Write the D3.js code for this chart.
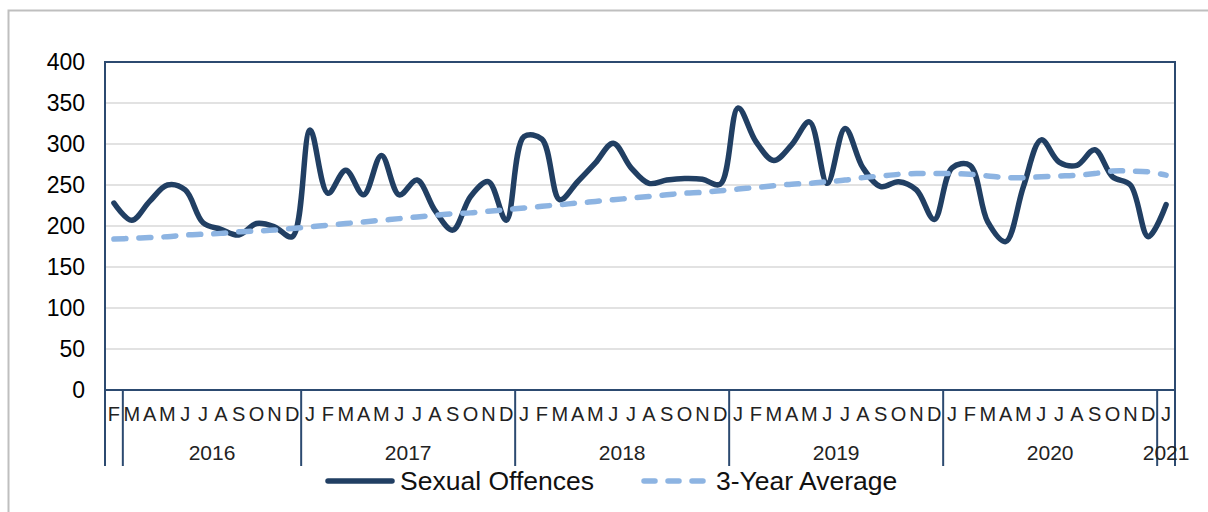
<!DOCTYPE html>
<html>
<head>
<meta charset="utf-8">
<script src="https://cdn.jsdelivr.net/npm/d3@7"></script>
<style>
  body { margin: 0; background: #fff; }
  svg { display: block; font-family: "Liberation Sans", Arial, sans-serif; }
</style>
</head>
<body>
<svg id="chart" width="1208" height="512"></svg>
<script>
// months from Feb 2016 to Jan 2021
var months = ["F",
  "M","A","M","J","J","A","S","O","N","D",
  "J","F","M","A","M","J","J","A","S","O","N","D",
  "J","F","M","A","M","J","J","A","S","O","N","D",
  "J","F","M","A","M","J","J","A","S","O","N","D",
  "J","F","M","A","M","J","J","A","S","O","N","D",
  "J"];

// year groups: label and number of months in it
var yearLabels = ["", "2016", "2017", "2018", "2019", "2020", "2021"];
var yearCounts = [1, 10, 12, 12, 12, 12, 1];

var offences = [228, 207, 230, 250, 244, 204, 196, 189, 203, 199, 187,
  317, 240, 268, 238, 286, 238, 256, 219, 195, 236, 254, 207,
  309, 306, 232, 254, 277, 301, 271, 252, 256, 258, 257, 251,
  344, 303, 280, 299, 327, 252, 319, 271, 248, 254, 244, 208,
  271, 274, 205, 181, 248, 305, 278, 274, 293, 260, 250, 187,
  226];

var average = [184, 185, 186, 187, 189, 190, 191, 193, 194, 195, 197,
  199, 201, 203, 205, 207, 209, 211, 213, 215, 216, 218, 220,
  222, 224, 226, 228, 230, 232, 234, 236, 238, 240, 241, 243,
  245, 247, 249, 251, 252, 254, 256, 259, 261, 263, 264, 264,
  264, 263, 261, 259, 259, 260, 261, 262, 264, 267, 267, 266,
  262];

var yTicks = [0, 50, 100, 150, 200, 250, 300, 350, 400];

var darkBlue = "#213F63";
var lightBlue = "#8DB4E2";
var axisBlue = "#2C4A70";

var svg = d3.select("#chart");

// outer frame
svg.append("rect").attr("x", 8.5).attr("y", 10.5)
  .attr("width", 1220).attr("height", 520)
  .attr("fill", "none").attr("stroke", "#BFBFBF").attr("stroke-width", 2);

var plotLeft = 105, plotRight = 1175, plotTop = 62, plotBottom = 390;

var x = d3.scaleBand().domain(d3.range(months.length)).range([plotLeft, plotRight]).padding(0);
var y = d3.scaleLinear().domain([0, 400]).range([plotBottom, plotTop]);

// gridlines
svg.append("g").selectAll("line").data(yTicks.filter(function(d) { return d > 0 && d < 400; }))
  .join("line")
  .attr("x1", plotLeft).attr("x2", plotRight)
  .attr("y1", function(d) { return y(d); }).attr("y2", function(d) { return y(d); })
  .attr("stroke", "#D9D9D9").attr("stroke-width", 1.5);

// y axis labels
var yAxis = svg.append("g").attr("transform", "translate(" + (plotLeft - 20) + ",0)")
  .call(d3.axisLeft(y).tickValues(yTicks).tickSize(0).tickPadding(0));
yAxis.select(".domain").remove();
yAxis.selectAll("text").attr("font-size", 23).attr("fill", "#000")
  .attr("font-family", "'Liberation Sans', Arial, sans-serif");

// plot border
svg.append("rect").attr("x", plotLeft).attr("y", plotTop)
  .attr("width", plotRight - plotLeft).attr("height", plotBottom - plotTop)
  .attr("fill", "none").attr("stroke", axisBlue).attr("stroke-width", 2);

// month labels
svg.append("g").selectAll("text").data(months).join("text")
  .attr("x", function(d, i) { return x(i) + x.bandwidth() / 2; })
  .attr("y", 421)
  .attr("text-anchor", "middle")
  .attr("font-size", 20).attr("fill", "#222")
  .text(function(d) { return d; });

// year groups and separators
var starts = [0];
yearCounts.forEach(function(c, i) { starts.push(starts[i] + c); });
var sepX = starts.map(function(s) { return s < months.length ? x(s) : plotRight; });
svg.append("g").selectAll("line").data(sepX).join("line")
  .attr("x1", function(d) { return d; }).attr("x2", function(d) { return d; })
  .attr("y1", plotBottom).attr("y2", 466)
  .attr("stroke", axisBlue).attr("stroke-width", 2);

svg.append("g").selectAll("text").data(yearLabels).join("text")
  .attr("x", function(d, i) { return (sepX[i] + sepX[i + 1]) / 2; })
  .attr("y", 460)
  .attr("text-anchor", "middle")
  .attr("font-size", 21).attr("fill", "#222")
  .text(function(d) { return d; });

// lines
var line = d3.line()
  .x(function(d, i) { return x(i) + x.bandwidth() / 2; })
  .y(function(d) { return y(d); })
  .curve(d3.curveCatmullRom.alpha(0.5));

svg.append("path").datum(offences)
  .attr("d", line).attr("fill", "none")
  .attr("stroke", darkBlue).attr("stroke-width", 5.5)
  .attr("stroke-linejoin", "round").attr("stroke-linecap", "round");

svg.append("path").datum(average)
  .attr("d", line).attr("fill", "none")
  .attr("stroke", lightBlue).attr("stroke-width", 5.5)
  .attr("stroke-dasharray", "12 13").attr("stroke-linecap", "round");

// legend
var legend = svg.append("g");
legend.append("line").attr("x1", 328).attr("x2", 392).attr("y1", 481).attr("y2", 481)
  .attr("stroke", darkBlue).attr("stroke-width", 5.5).attr("stroke-linecap", "round");
legend.append("text").attr("x", 400).attr("y", 490).attr("font-size", 26.5).attr("fill", "#111")
  .text("Sexual Offences");
legend.append("line").attr("x1", 644).attr("x2", 706).attr("y1", 481).attr("y2", 481)
  .attr("stroke", lightBlue).attr("stroke-width", 5.5).attr("stroke-linecap", "round")
  .attr("stroke-dasharray", "11 13");
legend.append("text").attr("x", 716).attr("y", 490).attr("font-size", 26.5).attr("fill", "#111")
  .text("3-Year Average");
</script>
</body>
</html>
